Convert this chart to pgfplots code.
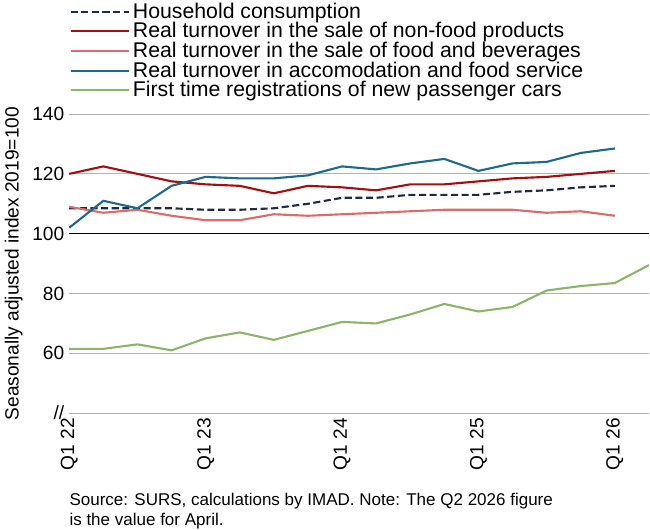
\documentclass[border=0pt]{standalone}
\usepackage{pgfplots}
\pgfplotsset{compat=1.18}
\usepackage{fontspec}
\setmainfont{Liberation Sans}
\definecolor{hh}{HTML}{1F2A44}
\definecolor{nf}{HTML}{A50F0F}
\definecolor{fd}{HTML}{DC6B6B}
\definecolor{ac}{HTML}{1E6A8C}
\definecolor{cr}{HTML}{8DB56A}
\begin{document}
\begin{tikzpicture}
\begin{axis}[
  scale only axis, width=409pt, height=211pt,
  xmin=0, xmax=17, ymin=40, ymax=140,
  ytick={40,60,80,100,120,140},
  yticklabels={//,60,80,100,120,140},
  xtick={0,4,8,12,16},
  xticklabels={Q1 22,Q1 23,Q1 24,Q1 25,Q1 26},
  xticklabel style={rotate=90,anchor=east,font=\fontsize{13.5}{15}\selectfont},
  yticklabel style={font=\fontsize{13.5}{15}\selectfont},
  /pgf/number format/assume math mode=true,
  ymajorgrids, grid style={gray!60,line width=0.6pt},
  axis line style={draw=none}, major tick length=0pt,
  ylabel={Seasonally adjusted index 2019=100},
  ylabel style={font=\fontsize{13.5}{15}\selectfont},
  legend style={at={(0,1.04)},anchor=south west,draw=none,fill=none,
    font=\fontsize{15}{17}\selectfont,row sep=-2.5pt,inner sep=0pt},
  legend cell align=left,
  legend image code/.code={\draw[#1] (0cm,0cm) -- (1.45cm,0cm);},
  every axis plot/.append style={line width=1.5pt},
  clip=false,
]
\draw[black,line width=0.8pt] (axis cs:0,100) -- (axis cs:17,100);
\addplot[hh,dashed,dash pattern=on 5pt off 2.5pt] coordinates {(0,108.5)(1,108.5)(2,108.5)(3,108.5)(4,108)(5,108)(6,108.5)(7,110)(8,112)(9,112)(10,113)(11,113)(12,113)(13,114)(14,114.5)(15,115.5)(16,116)};
\addlegendentry{Household consumption}
\addplot[nf] coordinates {(0,120)(1,122.5)(2,120)(3,117.5)(4,116.5)(5,116)(6,113.5)(7,116)(8,115.5)(9,114.5)(10,116.5)(11,116.5)(12,117.5)(13,118.5)(14,119)(15,120)(16,121)};
\addlegendentry{Real turnover in the sale of non-food products}
\addplot[fd] coordinates {(0,109)(1,107)(2,108)(3,106)(4,104.5)(5,104.5)(6,106.5)(7,106)(8,106.5)(9,107)(10,107.5)(11,108)(12,108)(13,108)(14,107)(15,107.5)(16,106)};
\addlegendentry{Real turnover in the sale of food and beverages}
\addplot[ac] coordinates {(0,102)(1,111)(2,108.5)(3,116)(4,119)(5,118.5)(6,118.5)(7,119.5)(8,122.5)(9,121.5)(10,123.5)(11,125)(12,121)(13,123.5)(14,124)(15,127)(16,128.5)};
\addlegendentry{Real turnover in accomodation and food service}
\addplot[cr] coordinates {(0,61.5)(1,61.5)(2,63)(3,61)(4,65)(5,67)(6,64.5)(7,67.5)(8,70.5)(9,70)(10,73)(11,76.5)(12,74)(13,75.5)(14,81)(15,82.5)(16,83.5)(17,89.5)};
\addlegendentry{First time registrations of new passenger cars}
\node[anchor=north west,align=left,font=\fontsize{12}{14.5}\selectfont,inner sep=0pt]
  at ([yshift=-56pt]rel axis cs:0,0) {Source: SURS, calculations by IMAD. Note: The Q2 2026 figure\\is the value for April.};
\end{axis}
\end{tikzpicture}
\end{document}
